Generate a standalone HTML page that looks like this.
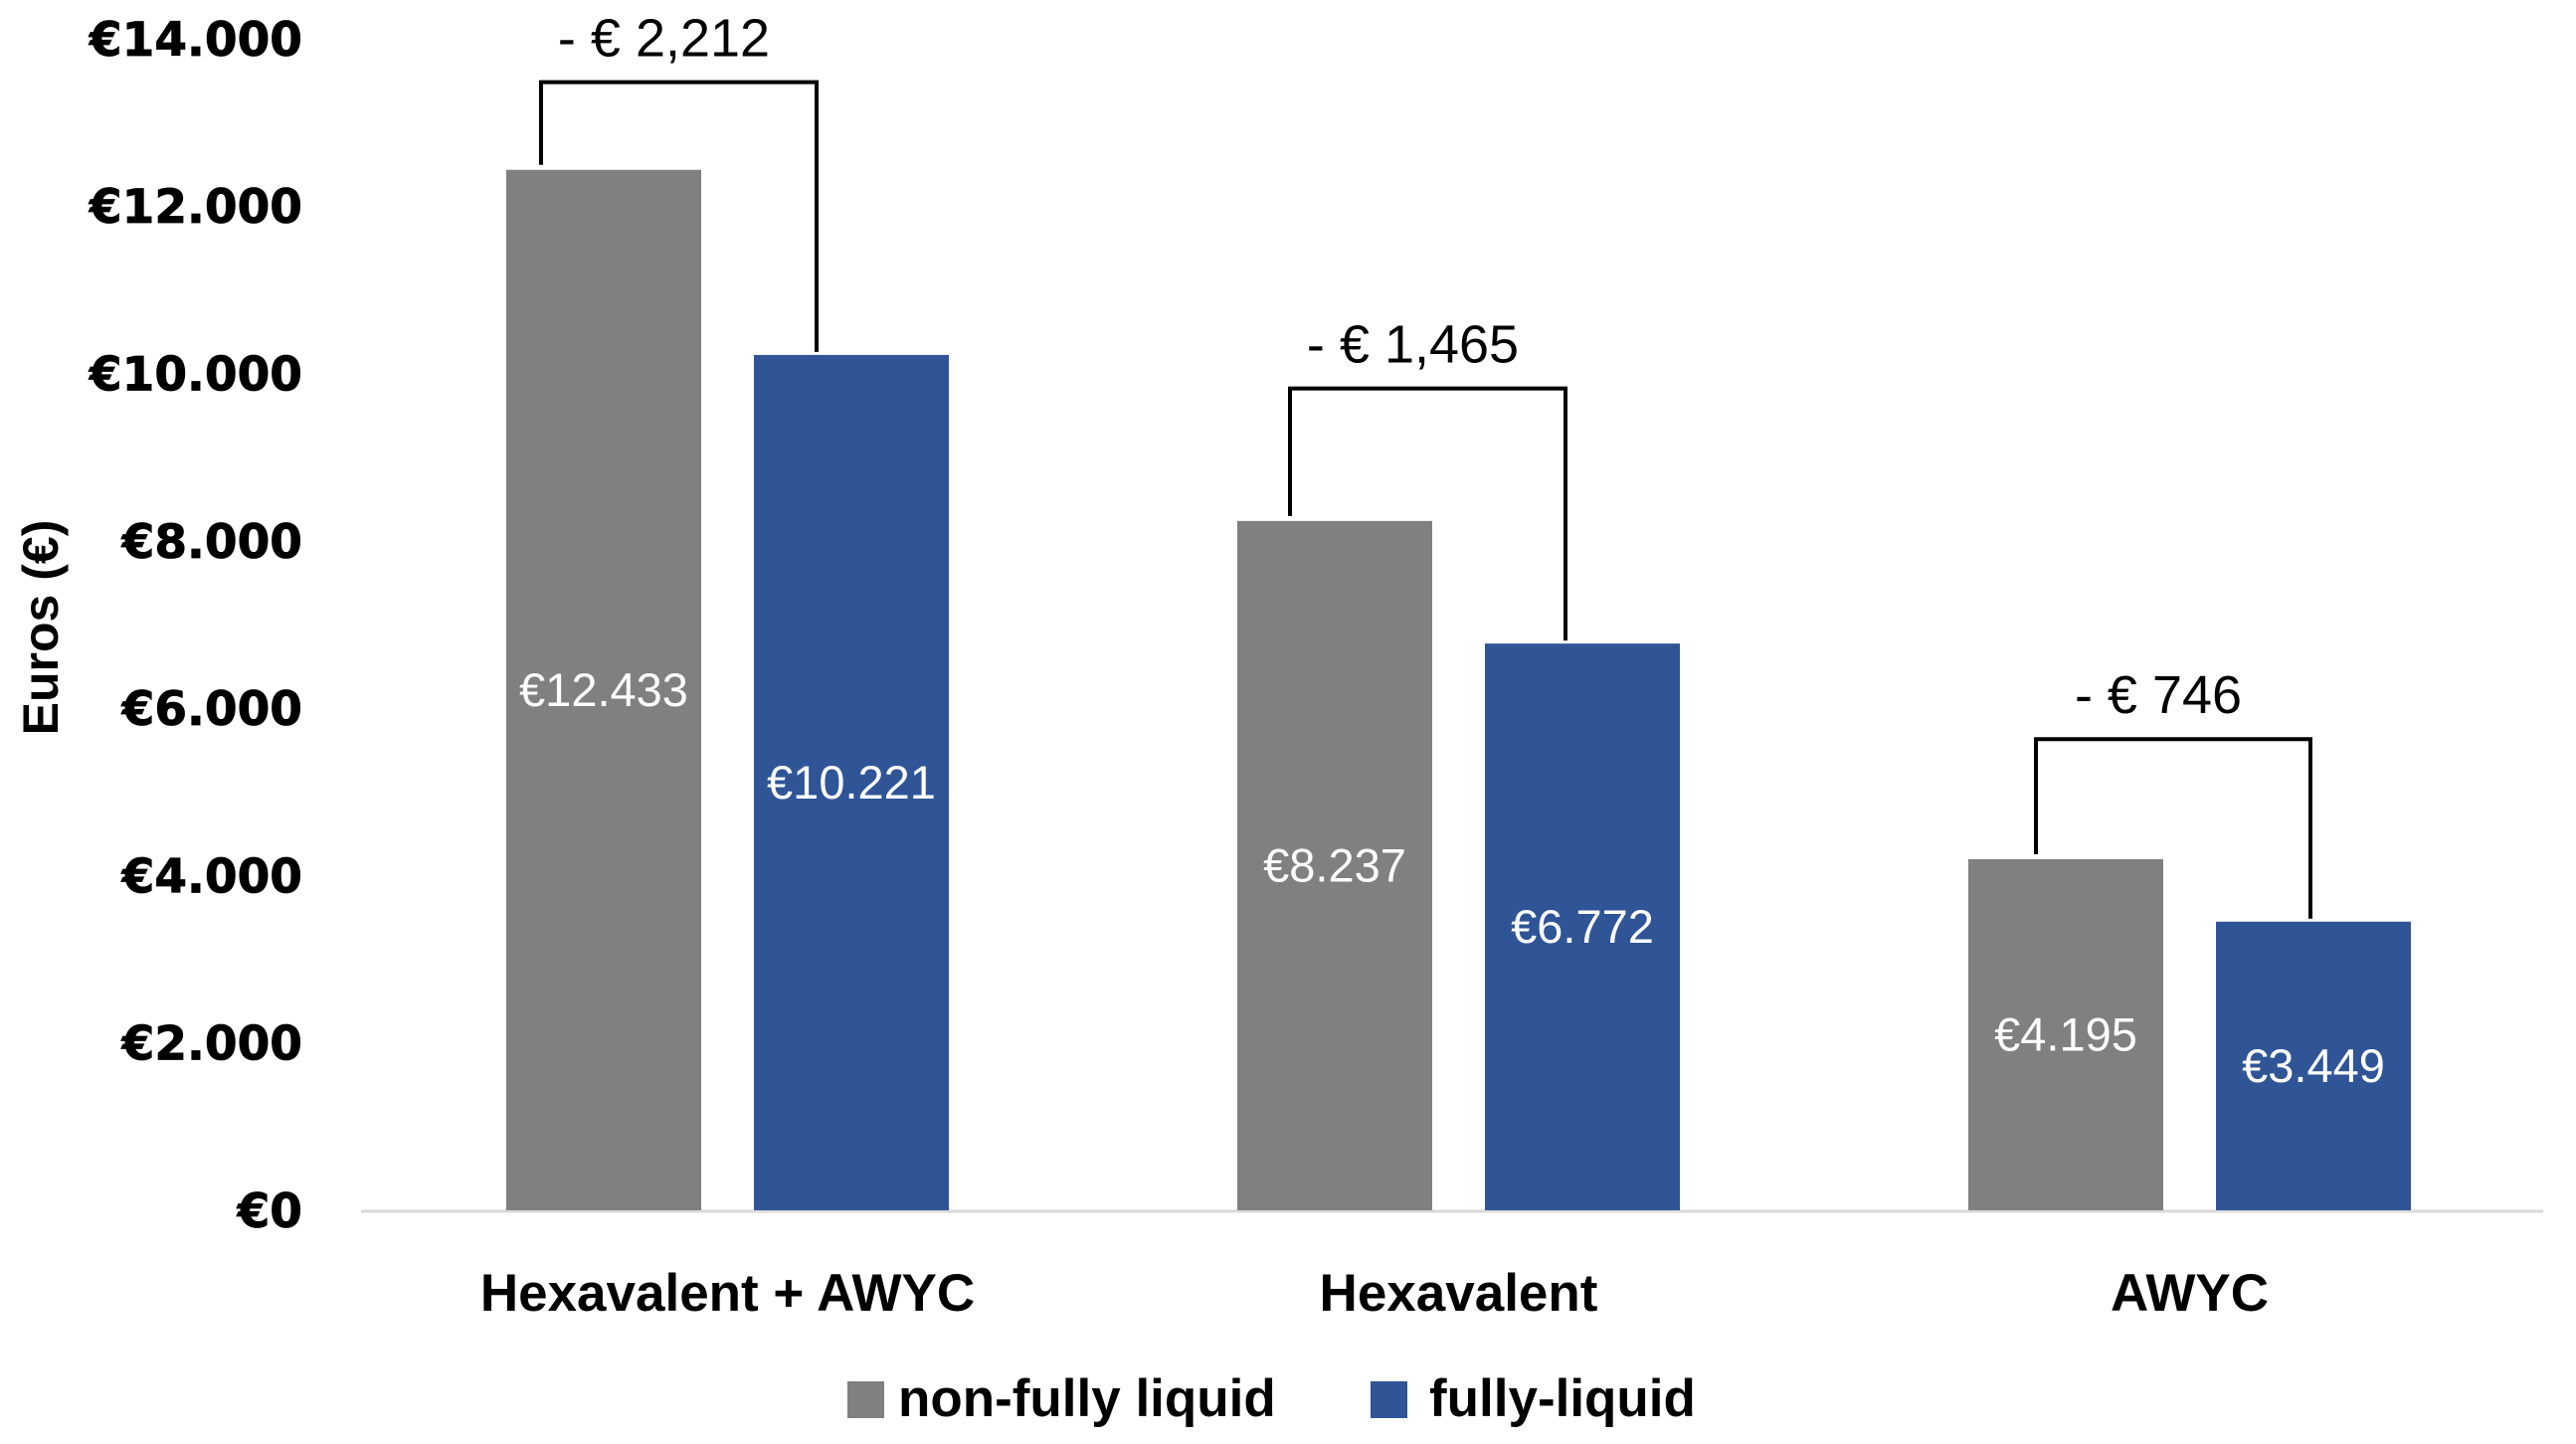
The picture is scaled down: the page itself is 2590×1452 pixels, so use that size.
<!DOCTYPE html>
<html><head><meta charset="utf-8"><style>
html,body{margin:0;padding:0;background:#fff;}
svg{display:block;}
</style></head><body>
<svg id="chart" width="2590" height="1452" viewBox="0 0 2590 1452" xmlns="http://www.w3.org/2000/svg">
<g id="yaxis"></g><g id="bars"></g><g id="brackets"></g>
<text transform="translate(58,631) rotate(-90)" text-anchor="middle" font-family="Liberation Sans, sans-serif" font-weight="bold" font-size="50" fill="#000">Euros (€)</text>
<g>
<rect x="852" y="1389" width="37" height="37" fill="#808080"/>
<text x="903" y="1424" font-family="Liberation Sans, sans-serif" font-weight="bold" font-size="53">non-fully liquid</text>
<rect x="1378" y="1389" width="37" height="37" fill="#2F5597"/>
<text x="1437" y="1424" font-family="Liberation Sans, sans-serif" font-weight="bold" font-size="53">fully-liquid</text>
</g>
</svg>
<script>
const categories = ["Hexavalent + AWYC", "Hexavalent", "AWYC"];
const nonFully = [12433, 8237, 4195];
const fully = [10221, 6772, 3449];
const diffLabels = ["- € 2,212", "- € 1,465", "- € 746"];
const bracketLevels = [13480, 9820, 5630];
const yTicks = [0, 2000, 4000, 6000, 8000, 10000, 12000, 14000];
const yTickLabels = ["€0","€2.000","€4.000","€6.000","€8.000","€10.000","€12.000","€14.000"];
const barValueLabels1 = ["€12.433","€8.237","€4.195"];
const barValueLabels2 = ["€10.221","€6.772","€3.449"];

const NS="http://www.w3.org/2000/svg";
const x0=363,x1=2557,yBase=1217,yPerUnit=168.3/2000;
const y=v=>yBase-v*yPerUnit;
const catW=735, firstGray=607;
const gx=i=>firstGray+catW*i;
const leftOff=[-63,-45,-30], rightOff=[-35,-17,-3];
function mk(tag,attrs,parent){const e=document.createElementNS(NS,tag);for(const k in attrs)e.setAttribute(k,attrs[k]);parent.appendChild(e);return e;}
const gy=document.getElementById('yaxis'),gb=document.getElementById('bars'),gk=document.getElementById('brackets');
yTicks.forEach((t,i)=>{
  const e=mk('text',{x:304,y:y(t)+17,'text-anchor':'end','font-family':'DejaVu Sans, sans-serif','font-weight':'bold','font-size':47,fill:'#000',stroke:'#000','stroke-width':0.8},gy);
  
  
  e.textContent=yTickLabels[i];
});
const ax=mk('line',{x1:x0,x2:x1,y1:yBase+1,y2:yBase+1,stroke:'#d9d9d9','stroke-width':3},gy);


const bw=196;
categories.forEach((c,i)=>{
  const g1=gx(i), g2=gx(i)+249;
  const r1=mk('rect',{x:g1-bw/2,y:y(nonFully[i]),width:bw,height:nonFully[i]*yPerUnit,fill:'#808080'},gb);
  
  
  const r2=mk('rect',{x:g2-bw/2,y:y(fully[i]),width:bw,height:fully[i]*yPerUnit,fill:'#2F5597'},gb);
  
  
  const t1=mk('text',{x:g1,y:(y(nonFully[i])+yBase)/2+16,'text-anchor':'middle','font-family':'Liberation Sans, sans-serif','font-size':47,fill:'#fff'},gb);
  
  
  t1.textContent=barValueLabels1[i];
  const t2=mk('text',{x:g2,y:(y(fully[i])+yBase)/2+16,'text-anchor':'middle','font-family':'Liberation Sans, sans-serif','font-size':47,fill:'#fff'},gb);
  
  
  t2.textContent=barValueLabels2[i];
  const xl=mk('text',{x:(g1+g2)/2,y:1318,'text-anchor':'middle','font-family':'Liberation Sans, sans-serif','font-weight':'bold','font-size':53,fill:'#000'},gb);
  
  
  xl.textContent=c;
  const bx1=g1+leftOff[i],bx2=g2+rightOff[i],by=y(bracketLevels[i]);
  const p=mk('path',{d:`M${bx1},${y(nonFully[i])-5} V${by} H${bx2} V${y(fully[i])-3}`,fill:'none',stroke:'#000','stroke-width':4},gk);
  
  
  const dl=mk('text',{x:(bx1+bx2)/2-15,y:by-26,'text-anchor':'middle','font-family':'Liberation Sans, sans-serif','font-size':54,fill:'#000'},gk);
  
  
  dl.textContent=diffLabels[i];
});
</script>
</body></html>
